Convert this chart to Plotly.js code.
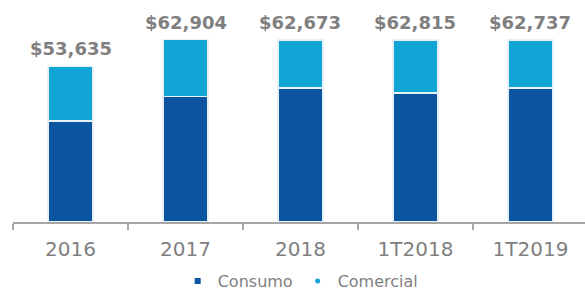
<!DOCTYPE html>
<html>
<head>
<meta charset="utf-8">
<script src="https://cdn.plot.ly/plotly-3.0.1.min.js"></script>
<style>html,body{margin:0;padding:0;background:#fff;}#chart{width:585px;height:290px;}</style>
</head>
<body>
<div id="chart"></div>
<script>
const categories = ["2016", "2017", "2018", "1T2018", "1T2019"];
const consumo = [34800, 43200, 46200, 44550, 46200];
const comercial = [18835, 19704, 16473, 18265, 16537];
const totals = [53635, 62904, 62673, 62815, 62737];
const totalLabels = totals.map(v => "$" + v.toLocaleString("en-US"));

const FONT = "DejaVu Sans, Liberation Sans, Arial, sans-serif";
const GRAY = "#7f7f7f";
const DARK = "#0b54a0";
const LIGHT = "#11a5d6";

const traces = [
  {
    type: "bar", x: categories, y: consumo, name: "Consumo", showlegend: false,
    marker: {color: DARK, line: {color: "#e6f0f8", width: 1.5}},
    hoverinfo: "skip"
  },
  {
    type: "bar", x: categories, y: comercial, name: "Comercial", showlegend: false,
    marker: {color: LIGHT, line: {color: "#e6f0f8", width: 1.5}},
    hoverinfo: "skip"
  },
  {
    type: "scatter", mode: "markers", x: [null], y: [null], name: "Consumo",
    marker: {symbol: "square", size: 6, color: DARK}
  },
  {
    type: "scatter", mode: "markers", x: [null], y: [null], name: "Comercial",
    marker: {symbol: "circle", size: 5, color: LIGHT}
  }
];

// category axis: annotation x given as the category index
const annotations = categories.map((c, i) => ({
  x: i, y: totals[i], xref: "x", yref: "y",
  text: totalLabels[i], showarrow: false,
  xanchor: "center", yanchor: "bottom", yshift: 5,
  font: {family: FONT, size: 18, color: GRAY, weight: "bold"}
}));

const layout = {
  width: 585, height: 290,
  margin: {l: 13, r: 0, t: 30, b: 68, pad: 0, autoexpand: false},
  paper_bgcolor: "#ffffff", plot_bgcolor: "#ffffff",
  barmode: "stack", bargap: 0.61,
  font: {family: FONT, color: GRAY},
  showlegend: true,
  legend: {
    orientation: "h", traceorder: "normal",
    xref: "container", x: 0.514, xanchor: "center",
    yref: "container", y: 0.031, yanchor: "middle",
    font: {family: FONT, size: 16, color: GRAY},
    itemwidth: 30, tracegroupgap: 0
  },
  annotations: annotations,
  xaxis: {
    type: "category", range: [-0.5, 4.474], automargin: false,
    showline: true, linecolor: "#a6a6a6", linewidth: 2,
    ticks: "outside", tickson: "boundaries", ticklen: 6, tickcolor: "#a6a6a6", tickwidth: 2,
    tickfont: {family: FONT, size: 20, color: GRAY},
    ticklabelstandoff: 8,
    showgrid: false, zeroline: false, fixedrange: true
  },
  yaxis: {
    range: [0, 66200], visible: false, automargin: false, showgrid: false, zeroline: false, fixedrange: true
  }
};

Plotly.newPlot("chart", traces, layout, {displayModeBar: false, staticPlot: true});
</script>
</body>
</html>
